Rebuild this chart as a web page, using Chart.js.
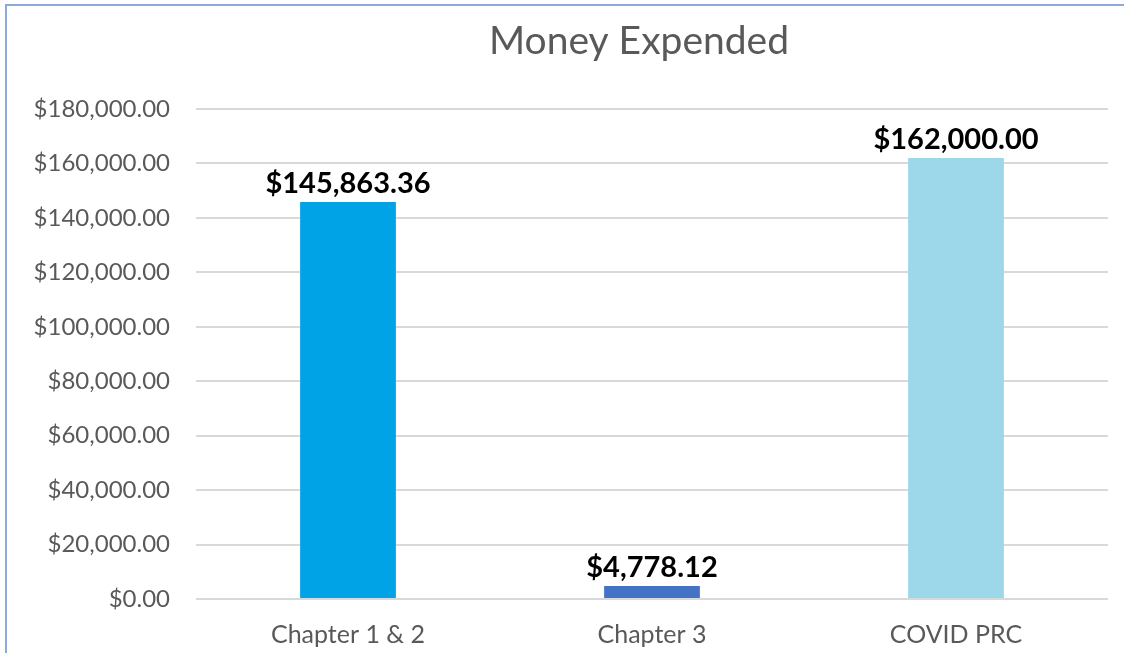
<!DOCTYPE html>
<html>
<head>
<meta charset="utf-8">
<script src="https://cdn.jsdelivr.net/npm/chart.js@4"></script>
<style>
  html, body { margin: 0; padding: 0; background: #fff; }
  #wrap { position: relative; width: 1124px; height: 653px; overflow: hidden; }
  #frame { position: absolute; left: 5px; top: 4px; right: -10px; bottom: -10px;
           border-left: 2px solid #8eaadb; border-top: 2px solid #8eaadb; }
  canvas { position: absolute; left: 0; top: 0; }
</style>
</head>
<body>
<div id="wrap">
  <div id="frame"></div>
  <canvas id="chart" width="1124" height="653"></canvas>
</div>
<script>
// 図のデータ
const chartTitle = "Money Expended";
const categories = ["Chapter 1 & 2", "Chapter 3", "COVID PRC"];
const amounts = [145863.36, 4778.12, 162000.00];
const barColors = ["#00a3e6", "#4472c4", "#9cd8ea"];
const yMax = 180000;
const yStep = 20000;

function formatDollar(v) {
  return "$" + v.toLocaleString("en-US", { minimumFractionDigits: 2, maximumFractionDigits: 2 });
}

// バーの上に金額を描くプラグイン
const valueLabels = {
  id: "valueLabels",
  afterDatasetsDraw(chart) {
    const ctx = chart.ctx;
    const meta = chart.getDatasetMeta(0);
    ctx.save();
    ctx.font = "bold 29px Lato";
    ctx.fillStyle = "#000";
    ctx.textAlign = "center";
    ctx.textBaseline = "alphabetic";
    meta.data.forEach((bar, i) => {
      ctx.fillText(formatDollar(amounts[i]), bar.x, bar.y - 9);
    });
    ctx.restore();
  },
};

// タイトルは元図と同じくプロット中央より少し左に置く
const offsetTitle = {
  id: "offsetTitle",
  afterDraw(chart) {
    const ctx = chart.ctx;
    const area = chart.chartArea;
    ctx.save();
    ctx.font = "39px Lato";
    ctx.fillStyle = "#595959";
    ctx.textAlign = "center";
    ctx.textBaseline = "middle";
    ctx.fillText(chartTitle, (area.left + area.right) / 2 - 13, 41);
    ctx.restore();
  },
};

new Chart(document.getElementById("chart"), {
  type: "bar",
  data: {
    labels: categories,
    datasets: [{
      data: amounts,
      backgroundColor: barColors,
      borderWidth: 0,
      barPercentage: 0.63,
      categoryPercentage: 0.5,
    }],
  },
  options: {
    responsive: false,
    animation: false,
    layout: { padding: { left: 0, right: 16, top: 109, bottom: 0 } },
    plugins: {
      legend: { display: false },
      tooltip: { enabled: false },
      title: { display: false },
    },
    scales: {
      x: {
        afterFit(axis) { axis.height = 54; },
        grid: { display: false, drawTicks: false },
        border: { display: false },
        ticks: { color: "#595959", font: { family: "Lato", size: 25 }, padding: 21 },
      },
      y: {
        min: 0,
        max: yMax,
        afterFit(axis) { axis.width = 196; },
        border: { display: false },
        grid: { color: "#d9d9d9", lineWidth: 2, drawTicks: false },
        ticks: {
          stepSize: yStep,
          color: "#595959",
          font: { family: "Lato", size: 24 },
          padding: 26,
          callback: (v) => formatDollar(v),
        },
      },
    },
  },
  plugins: [valueLabels, offsetTitle],
});
</script>
</body>
</html>
